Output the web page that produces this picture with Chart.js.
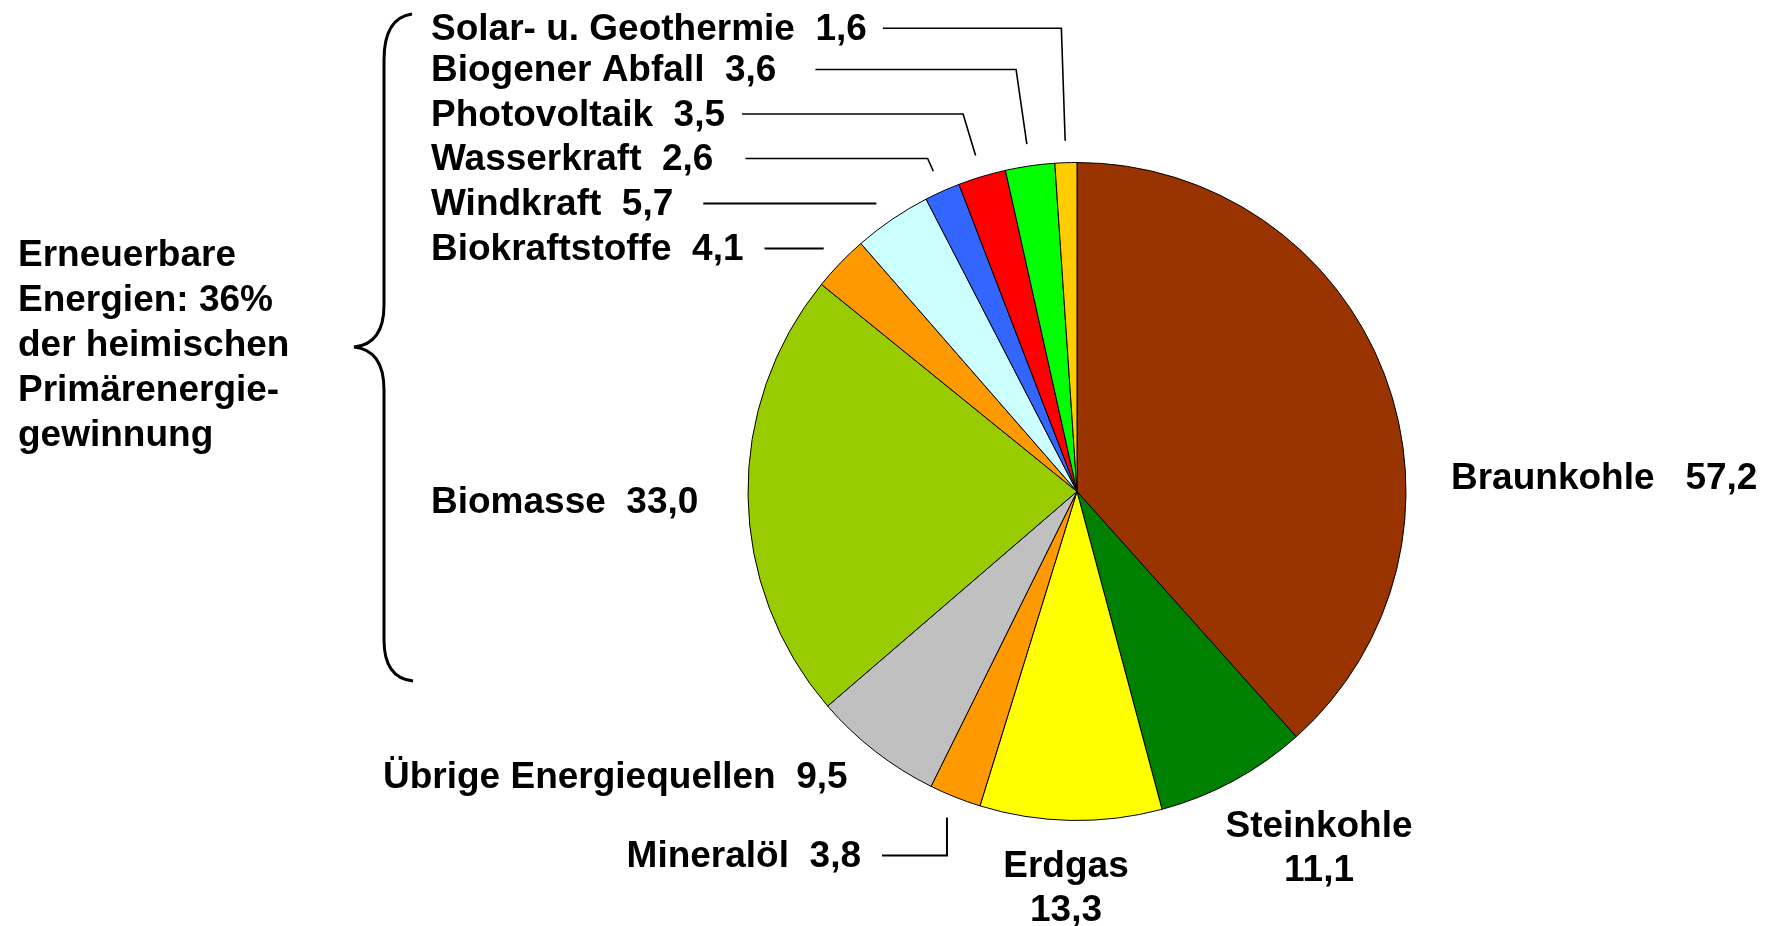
<!DOCTYPE html>
<html>
<head>
<meta charset="utf-8">
<script src="https://cdn.jsdelivr.net/npm/chart.js@4"></script>
<style>
  body { margin: 0; background: #fff; }
</style>
</head>
<body>
<canvas id="pieChart" width="1772" height="926"></canvas>
<script>
// data (Mio t SKE)
var categories = ['Braunkohle', 'Steinkohle', 'Erdgas', 'Mineralöl', 'Übrige Energiequellen', 'Biomasse',
                  'Biokraftstoffe', 'Windkraft', 'Wasserkraft', 'Photovoltaik', 'Biogener Abfall', 'Solar- u. Geothermie'];
var values = [57.2, 11.1, 13.3, 3.8, 9.5, 33.0, 4.1, 5.7, 2.6, 3.5, 3.6, 1.6];
var colors = ['#993300', '#008000', '#FFFF00', '#FF9900', '#C0C0C0', '#99CC00',
              '#FF9900', '#CCFFFF', '#3366FF', '#FF0000', '#00FF00', '#FFCC00'];
var braceText = ['Erneuerbare', 'Energien: 36%', 'der heimischen', 'Primärenergie-', 'gewinnung'];

// where each label sits (cap-centre y), and how its leader runs
var labelLayout = [
  {x: 1451, y: 476, align: 'left', sep: '   '},
  {x: 1319, y: 824, align: 'center', twoLines: true},
  {x: 1066, y: 864, align: 'center', twoLines: true},
  {x: 861, y: 854, align: 'right', sep: '  ', leader: 'vert', gap: 21},
  {x: 383, y: 775, align: 'left', sep: '  '},
  {x: 431, y: 500, align: 'left', sep: '  '},
  {x: 431, y: 247, align: 'left', sep: '  ', leader: 'ray', gap: 21},
  {x: 431, y: 202, align: 'left', sep: '  ', leader: 'ray', gap: 30},
  {x: 431, y: 157, align: 'left', sep: '  ', leader: 'ray', gap: 32},
  {x: 431, y: 112.5, align: 'left', sep: '  ', leader: 'ray', gap: 17},
  {x: 431, y: 68, align: 'left', sep: '  ', leader: 'ray', gap: 39},
  {x: 431, y: 26.7, align: 'left', sep: '  ', leader: 'ray', gap: 16}
];

var FONT = 'bold 37px "Liberation Sans", Arial, sans-serif';
var CAP = 13; // half cap height

function fmt(v) {
  return v.toFixed(1).replace('.', ',');
}

var labelPlugin = {
  id: 'labelPlugin',
  afterDraw: function(chart) {
    var ctx = chart.ctx;
    var arcs = chart.getDatasetMeta(0).data;
    ctx.save();
    ctx.font = FONT;
    ctx.fillStyle = '#000';
    ctx.strokeStyle = '#000';

    arcs.forEach(function(arc, i) {
      var lay = labelLayout[i];
      ctx.textAlign = lay.align;
      ctx.textBaseline = 'alphabetic';
      var txt;
      if (lay.twoLines) {
        ctx.fillText(categories[i], lay.x, lay.y + CAP);
        ctx.fillText(fmt(values[i]), lay.x, lay.y + 44 + CAP);
        return;
      }
      txt = categories[i] + lay.sep + fmt(values[i]);
      ctx.fillText(txt, lay.x, lay.y + CAP);
      if (!lay.leader) return;

      var w = ctx.measureText(txt).width;
      var textEnd = lay.align === 'right' ? lay.x : lay.x + w;
      var sx = textEnd + lay.gap;
      var ly = lay.y + 1.5;
      var mid = (arc.startAngle + arc.endAngle) / 2;
      var c = Math.cos(mid), s = Math.sin(mid);
      var R = arc.outerRadius + 22;
      var ex = arc.x + R * c, ey = arc.y + R * s;

      ctx.lineWidth = 2;
      ctx.beginPath();
      ctx.moveTo(sx, ly);
      if (lay.leader === 'vert') {
        ctx.lineTo(ex, ly);
        ctx.lineTo(ex, ey);
      } else {
        var t = (ly - arc.y) / s;
        if (t > R) {
          ctx.lineTo(arc.x + t * c, ly);
          ctx.lineWidth = 1.6;
          ctx.lineTo(ex, ey);
        } else {
          var dy = ly - arc.y;
          ctx.lineTo(arc.x - Math.sqrt(R * R - dy * dy), ly);
        }
      }
      ctx.stroke();
    });

    // left brace text
    ctx.textAlign = 'left';
    braceText.forEach(function(line, k) {
      ctx.fillText(line, 18, 252.5 + k * 45 + CAP);
    });

    // curly brace
    ctx.lineWidth = 3;
    ctx.beginPath();
    ctx.moveTo(412, 14);
    ctx.quadraticCurveTo(384, 18, 384, 60);
    ctx.lineTo(384, 305);
    ctx.quadraticCurveTo(384, 344, 354, 347);
    ctx.quadraticCurveTo(384, 350, 384, 390);
    ctx.lineTo(384, 640);
    ctx.quadraticCurveTo(384, 678, 413, 681);
    ctx.stroke();
    ctx.restore();
  }
};

new Chart(document.getElementById('pieChart'), {
  type: 'pie',
  data: {
    labels: categories,
    datasets: [{
      data: values,
      backgroundColor: colors,
      borderColor: '#000',
      borderWidth: 1
    }]
  },
  options: {
    responsive: false,
    animation: false,
    layout: {
      padding: {left: 747, right: 365, top: 162, bottom: 105}
    },
    plugins: {
      legend: {display: false},
      tooltip: {enabled: false}
    }
  },
  plugins: [labelPlugin]
});
</script>
</body>
</html>
